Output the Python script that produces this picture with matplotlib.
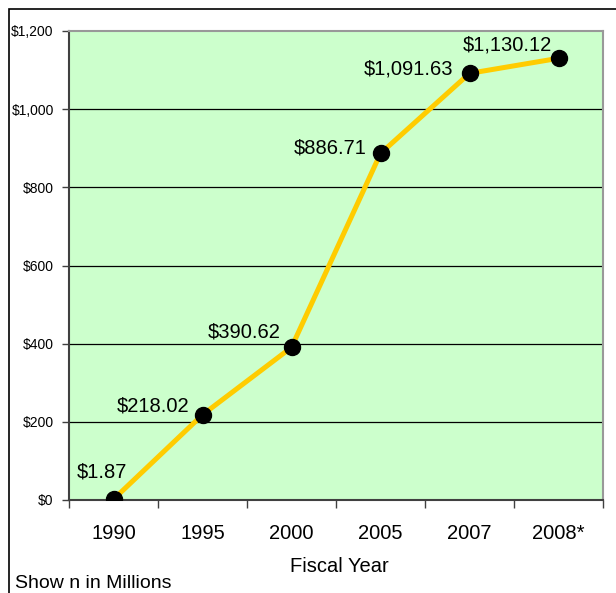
import matplotlib.pyplot as plt
from matplotlib.patches import Rectangle

plt.rcParams['font.family'] = ['Liberation Sans', 'DejaVu Sans']

# data (millions of dollars)
years = ['1990', '1995', '2000', '2005', '2007', '2008*']
values = [1.87, 218.02, 390.62, 886.71, 1091.63, 1130.12]
labels = ['$1.87', '$218.02', '$390.62', '$886.71', '$1,091.63', '$1,130.12']
y_ticks = [0, 200, 400, 600, 800, 1000, 1200]

# label placement (pixel offsets from each point, alignment)
offsets = [(-12, 27, 'center'), (-13, 9, 'right'), (-11, 15, 'right'),
           (-14, 5, 'right'), (-16, 4, 'right'), (-51, 13, 'center')]

fig = plt.figure(figsize=(6.16, 5.93), dpi=100)
fig.patch.set_facecolor('white')

# outer chart frame (only left/top edges are visible in the picture)
fig.patches.append(Rectangle((9 / 616, -0.2), 1.2, 1 - 9 / 593 + 0.2,
                             transform=fig.transFigure, fill=False,
                             edgecolor='black', linewidth=1.2))

ax = fig.add_axes([69 / 616, 93 / 593, 534 / 616, 469 / 593])
ax.set_facecolor('#CCFFCC')

x = list(range(len(years)))
ax.plot(x, values, color='#FFCC00', linewidth=3.6, zorder=3)
ax.plot(x, values, 'o', color='black', markersize=11.5, zorder=4)

for xi, v, lab, (dx, dy, ha) in zip(x, values, labels, offsets):
    ax.annotate(lab, (xi, v), xytext=(dx, dy), textcoords='offset pixels',
                ha=ha, va='center', fontsize=14.5, zorder=5)

ax.set_xlim(-0.5, len(years) - 0.5)
ax.set_ylim(0, 1200)
ax.set_yticks(y_ticks)
ax.set_yticklabels(['${:,}'.format(t) for t in y_ticks], fontsize=10)
ax.tick_params(axis='y', length=5, width=1, color='#404040', pad=6)

ax.set_xticks(x)
ax.set_xticklabels(years, fontsize=14.5)
ax.set_xticks([i - 0.5 for i in range(len(years) + 1)], minor=True)
ax.tick_params(axis='x', which='major', length=0, pad=17)
ax.tick_params(axis='x', which='minor', length=6, width=1, color='#404040')

for t in y_ticks[1:-1]:
    ax.axhline(t, color='black', linewidth=0.9, zorder=1)

for side in ['top', 'right']:
    ax.spines[side].set_color('#999999')
    ax.spines[side].set_linewidth(1.5)
for side in ['left', 'bottom']:
    ax.spines[side].set_color('#404040')
    ax.spines[side].set_linewidth(1.5)

fig.text(339 / 616, 1 - 567 / 593, 'Fiscal Year', ha='center', va='center',
         fontsize=14.5)
fig.text(15 / 616, 1 - 583 / 593, 'Show n in Millions', ha='left',
         va='center', fontsize=14)

fig.savefig('out.png', dpi=100)
